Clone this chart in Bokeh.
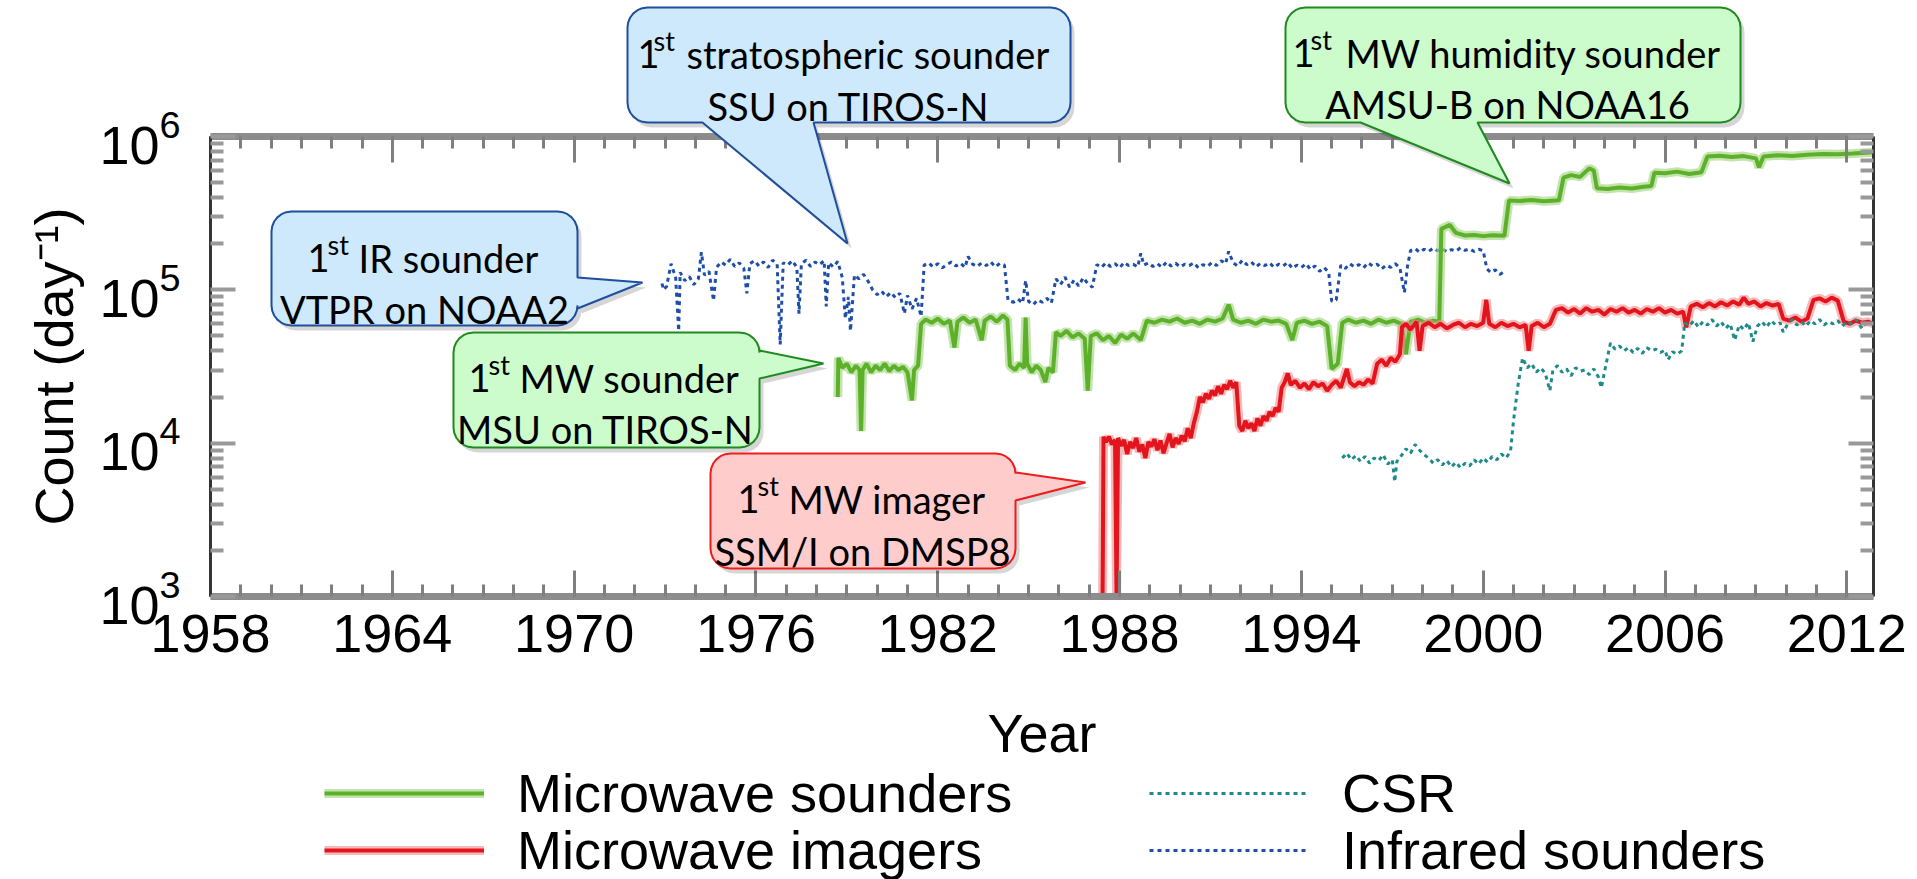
from bokeh.plotting import figure
from bokeh.models import (Range1d, FixedTicker, LinearAxis, LogAxis, Legend, LegendItem,
                          PolyAnnotation, Label, CustomJSTickFormatter)
from bokeh.embed import file_html
from bokeh.resources import INLINE
import math

# ---------------- data ----------------
mws_year = [1978.70, 1978.72, 1978.85, 1979.00, 1979.15, 1979.30, 1979.42, 1979.47, 1979.52, 1979.65,
            1979.80, 1979.95, 1980.10, 1980.25, 1980.40, 1980.55, 1980.70, 1980.85, 1981.00, 1981.15,
            1981.22, 1981.35, 1981.45, 1981.60, 1981.80, 1982.00, 1982.20, 1982.40, 1982.55, 1982.65,
            1982.85, 1983.05, 1983.25, 1983.45, 1983.55, 1983.75, 1983.95, 1984.15, 1984.30, 1984.38,
            1984.55, 1984.70, 1984.85, 1984.90, 1984.95, 1985.10, 1985.25, 1985.40, 1985.55, 1985.65,
            1985.80, 1985.90, 1986.05, 1986.25, 1986.45, 1986.65, 1986.85, 1986.95, 1987.05, 1987.25,
            1987.45, 1987.65, 1987.85, 1988.05, 1988.25, 1988.45, 1988.70, 1988.90, 1989.15, 1989.40,
            1989.65, 1989.90, 1990.15, 1990.40, 1990.65, 1990.90, 1991.15, 1991.40, 1991.60, 1991.75,
            1992.00, 1992.25, 1992.50, 1992.75, 1993.00, 1993.25, 1993.50, 1993.70, 1993.85, 1994.10,
            1994.35, 1994.60, 1994.85, 1995.00, 1995.20, 1995.35, 1995.55, 1995.80, 1996.05, 1996.30,
            1996.55, 1996.80, 1997.05, 1997.30, 1997.45, 1997.60, 1997.85, 1998.10, 1998.35, 1998.55,
            1998.62, 1998.90, 1999.10, 1999.40, 1999.70, 2000.00, 2000.30, 2000.70, 2000.85, 2001.20,
            2001.60, 2002.00, 2002.50, 2002.65, 2002.90, 2003.20, 2003.50, 2003.65, 2003.75, 2004.10,
            2004.50, 2004.90, 2005.30, 2005.55, 2005.65, 2006.00, 2006.40, 2006.80, 2007.20, 2007.40,
            2007.80, 2008.20, 2008.60, 2009.00, 2009.10, 2009.25, 2009.70, 2010.20, 2010.70, 2011.20,
            2011.70, 2012.20, 2012.88]
mws_count = [20000, 36000, 31000, 33000, 29000, 32000, 30000, 12000, 30000, 33000,
             29000, 32000, 30000, 33000, 29500, 32000, 30000, 31500, 29000, 19000,
             30000, 32000, 60000, 64000, 61000, 65000, 60000, 63000, 42000, 62000,
             66000, 61000, 64000, 47000, 63000, 67000, 62000, 68000, 64000, 32000,
             30000, 33000, 31000, 66000, 33000, 29000, 32000, 30000, 25000, 31000,
             29000, 53000, 50000, 54000, 49000, 52000, 48000, 22000, 50000, 52000,
             47000, 50000, 45000, 51000, 48000, 52000, 47000, 63000, 61000, 64000,
             62000, 65000, 61000, 63000, 60000, 64000, 62000, 65000, 80000, 64000,
             61000, 63000, 60000, 64000, 62000, 63000, 60000, 47000, 61000, 63000,
             60000, 62000, 58000, 30500, 33000, 61000, 64000, 61000, 63000, 60000,
             64000, 61000, 63000, 60000, 38000, 62000, 64000, 61000, 63000, 62000,
             250000, 265000, 235000, 226000, 228000, 224000, 227000, 225000, 383000, 380000,
             386000, 378000, 384000, 540000, 560000, 545000, 620000, 600000, 460000, 455000,
             465000, 458000, 470000, 475000, 580000, 575000, 590000, 570000, 585000, 740000,
             750000, 735000, 745000, 720000, 630000, 740000, 755000, 745000, 760000, 770000,
             765000, 775000, 790000]

mwi_year = [1987.44, 1987.47, 1987.55, 1987.65, 1987.75, 1987.85, 1987.90, 1987.95, 1988.05, 1988.15,
            1988.25, 1988.35, 1988.45, 1988.55, 1988.65, 1988.75, 1988.85, 1988.95, 1989.05, 1989.15,
            1989.25, 1989.35, 1989.45, 1989.55, 1989.65, 1989.75, 1989.85, 1989.95, 1990.05, 1990.15,
            1990.25, 1990.35, 1990.45, 1990.55, 1990.65, 1990.75, 1990.85, 1990.95, 1991.05, 1991.15,
            1991.25, 1991.35, 1991.45, 1991.55, 1991.65, 1991.75, 1991.85, 1991.95, 1992.05, 1992.15,
            1992.25, 1992.35, 1992.45, 1992.55, 1992.65, 1992.75, 1992.85, 1992.95, 1993.05, 1993.15,
            1993.25, 1993.35, 1993.45, 1993.55, 1993.65, 1993.80, 1993.95, 1994.10, 1994.25, 1994.40,
            1994.55, 1994.70, 1994.85, 1995.00, 1995.15, 1995.30, 1995.50, 1995.60, 1995.75, 1995.90,
            1996.05, 1996.20, 1996.35, 1996.50, 1996.65, 1996.80, 1996.95, 1997.10, 1997.25, 1997.32,
            1997.45, 1997.60, 1997.80, 1997.90, 1998.00, 1998.20, 1998.40, 1998.60, 1998.80, 1999.00,
            1999.20, 1999.40, 1999.60, 1999.80, 2000.00, 2000.10, 2000.20, 2000.40, 2000.60, 2000.80,
            2001.00, 2001.20, 2001.40, 2001.50, 2001.60, 2001.80, 2002.00, 2002.20, 2002.40, 2002.60,
            2002.80, 2003.00, 2003.20, 2003.40, 2003.60, 2003.80, 2004.00, 2004.20, 2004.40, 2004.60,
            2004.80, 2005.00, 2005.20, 2005.40, 2005.60, 2005.80, 2006.00, 2006.20, 2006.40, 2006.60,
            2006.70, 2006.85, 2007.05, 2007.25, 2007.45, 2007.65, 2007.85, 2008.05, 2008.25, 2008.45,
            2008.60, 2008.75, 2008.95, 2009.15, 2009.35, 2009.55, 2009.75, 2009.90, 2010.10, 2010.30,
            2010.50, 2010.70, 2010.90, 2011.10, 2011.30, 2011.50, 2011.70, 2011.90, 2012.10, 2012.30,
            2012.50, 2012.70, 2012.88]
mwi_count = [1000, 11000, 10200, 11000, 9800, 10500, 1000, 10800, 9600, 10500,
             8500, 10200, 9300, 10800, 8800, 9800, 8000, 10200, 9500, 10600,
             9000, 10400, 8600, 10000, 11500, 9400, 10800, 9900, 11200, 10300,
             12500, 10800, 13500, 16000, 20000, 18500, 21000, 19500, 22000, 20500,
             23500, 21000, 24000, 22500, 25500, 23000, 25000, 13000, 12000, 14000,
             12500, 13500, 12000, 14500, 13000, 15000, 14000, 16000, 15000, 17000,
             16000, 23000, 25000, 28500, 24000, 25500, 23000, 24500, 22500, 25000,
             23500, 24500, 22000, 24000, 25500, 23000, 30500, 25000, 23500, 25000,
             24000, 26000, 24500, 33000, 35000, 32000, 36000, 34000, 38000, 57000,
             60000, 55000, 62000, 40000, 58000, 61000, 57000, 60000, 56000, 59000,
             61000, 57000, 60000, 58000, 61000, 86000, 60000, 57000, 61000, 58000,
             60000, 57000, 59000, 40000, 58000, 61000, 57000, 60000, 74000, 76000,
             71000, 75000, 70000, 76000, 72000, 74000, 69000, 75000, 72000, 76000,
             71000, 74000, 70000, 75000, 72000, 76000, 71000, 74000, 70000, 72000,
             57000, 78000, 81000, 77000, 82000, 78000, 83000, 79000, 84000, 80000,
             89000, 81000, 84000, 78000, 82000, 79000, 81000, 65000, 63000, 66000,
             62000, 65000, 86000, 88000, 84000, 89000, 85000, 62000, 60000, 63000,
             61000, 62000, 60000]

csr_year = [1995.35, 1995.50, 1995.65, 1995.80, 1995.95, 1996.10, 1996.25, 1996.40, 1996.55, 1996.70,
            1996.85, 1997.00, 1997.08, 1997.15, 1997.30, 1997.45, 1997.60, 1997.75, 1997.90, 1998.05,
            1998.20, 1998.35, 1998.50, 1998.65, 1998.80, 1998.95, 1999.10, 1999.25, 1999.40, 1999.55,
            1999.70, 1999.85, 2000.00, 2000.15, 2000.30, 2000.45, 2000.60, 2000.75, 2000.90, 2001.00,
            2001.15, 2001.30, 2001.45, 2001.60, 2001.75, 2001.90, 2002.05, 2002.20, 2002.30, 2002.45,
            2002.60, 2002.75, 2002.90, 2003.05, 2003.20, 2003.35, 2003.50, 2003.65, 2003.80, 2003.90,
            2004.00, 2004.20, 2004.35, 2004.50, 2004.65, 2004.80, 2004.95, 2005.10, 2005.25, 2005.40,
            2005.55, 2005.70, 2005.85, 2006.00, 2006.10, 2006.25, 2006.40, 2006.55, 2006.65, 2006.80,
            2006.95, 2007.10, 2007.25, 2007.40, 2007.55, 2007.70, 2007.85, 2008.00, 2008.15, 2008.30,
            2008.45, 2008.60, 2008.75, 2008.90, 2009.05, 2009.20, 2009.35, 2009.50, 2009.65, 2009.80,
            2009.90, 2010.05, 2010.20, 2010.35, 2010.50, 2010.65, 2010.80, 2010.95, 2011.10, 2011.25,
            2011.40, 2011.55, 2011.70, 2011.85, 2012.00, 2012.15, 2012.30, 2012.50, 2012.65, 2012.88]
csr_count = [8000, 8600, 7800, 8300, 7600, 8200, 7400, 8000, 7700, 8400,
             7300, 7800, 5600, 7600, 8300, 9200, 8600, 9800, 9000, 8400,
             8000, 7400, 7800, 7200, 7700, 7000, 7500, 6900, 7400, 7100,
             7800, 7300, 8000, 7500, 8200, 7800, 8500, 8000, 8800, 14000,
             24000, 36000, 31000, 33000, 29000, 31000, 28500, 22000, 30000, 32000,
             29000, 30500, 27500, 31000, 29500, 30000, 28000, 30500, 27000, 23000,
             29000, 45000, 41000, 43000, 40000, 42000, 39000, 41500, 38500, 42000,
             40000, 41000, 39000, 40500, 35000, 39500, 38000, 40000, 61000, 58000,
             63000, 57000, 62000, 59000, 64000, 58000, 62000, 56000, 60000, 47000,
             59000, 55000, 61000, 46000, 58000, 62000, 57000, 63000, 59000, 61000,
             53000, 60000, 64000, 59000, 62000, 58000, 63000, 60000, 64000, 59000,
             62000, 60000, 63000, 58000, 62000, 60000, 64000, 56000, 62000, 60000]

irs_year = [1972.90, 1972.95, 1973.05, 1973.20, 1973.35, 1973.45, 1973.50, 1973.65, 1973.80, 1973.95,
            1974.10, 1974.20, 1974.30, 1974.45, 1974.60, 1974.70, 1974.85, 1975.00, 1975.15, 1975.30,
            1975.45, 1975.60, 1975.70, 1975.80, 1975.95, 1976.10, 1976.25, 1976.40, 1976.55, 1976.70,
            1976.80, 1976.90, 1977.05, 1977.20, 1977.35, 1977.42, 1977.50, 1977.65, 1977.80, 1977.95,
            1978.10, 1978.25, 1978.32, 1978.40, 1978.55, 1978.70, 1978.85, 1978.95, 1979.05, 1979.12,
            1979.25, 1979.40, 1979.55, 1979.70, 1979.85, 1980.00, 1980.15, 1980.30, 1980.45, 1980.60,
            1980.75, 1980.90, 1981.00, 1981.15, 1981.30, 1981.45, 1981.55, 1981.70, 1981.85, 1982.00,
            1982.15, 1982.30, 1982.45, 1982.60, 1982.75, 1982.90, 1983.00, 1983.15, 1983.30, 1983.45,
            1983.60, 1983.75, 1983.90, 1984.05, 1984.20, 1984.32, 1984.50, 1984.65, 1984.80, 1984.90,
            1985.00, 1985.15, 1985.30, 1985.45, 1985.60, 1985.75, 1985.90, 1986.05, 1986.20, 1986.35,
            1986.50, 1986.65, 1986.80, 1986.95, 1987.10, 1987.25, 1987.40, 1987.55, 1987.70, 1987.85,
            1988.00, 1988.15, 1988.30, 1988.45, 1988.60, 1988.70, 1988.80, 1988.95, 1989.10, 1989.25,
            1989.40, 1989.55, 1989.70, 1989.85, 1990.00, 1990.15, 1990.30, 1990.45, 1990.60, 1990.75,
            1990.90, 1991.05, 1991.20, 1991.35, 1991.50, 1991.60, 1991.75, 1991.90, 1992.05, 1992.20,
            1992.35, 1992.50, 1992.65, 1992.80, 1992.95, 1993.10, 1993.25, 1993.40, 1993.55, 1993.70,
            1993.85, 1994.00, 1994.15, 1994.30, 1994.45, 1994.60, 1994.75, 1994.90, 1995.00, 1995.15,
            1995.30, 1995.45, 1995.60, 1995.75, 1995.90, 1996.05, 1996.20, 1996.35, 1996.50, 1996.65,
            1996.80, 1996.95, 1997.10, 1997.25, 1997.40, 1997.50, 1997.60, 1997.75, 1997.90, 1998.05,
            1998.20, 1998.35, 1998.50, 1998.65, 1998.80, 1998.95, 1999.10, 1999.25, 1999.40, 1999.55,
            1999.70, 1999.85, 2000.00, 2000.12, 2000.25, 2000.40, 2000.55, 2000.70]
irs_count = [110000, 100000, 105000, 148000, 120000, 54000, 130000, 115000, 122000, 108000,
             118000, 176000, 125000, 132000, 85000, 140000, 152000, 145000, 158000, 142000,
             150000, 138000, 95000, 148000, 155000, 143000, 152000, 140000, 156000, 147000,
             44000, 150000, 145000, 155000, 140000, 70000, 148000, 156000, 142000, 152000,
             146000, 155000, 78000, 150000, 141000, 153000, 120000, 65000, 90000, 54000,
             125000, 118000, 126000, 114000, 100000, 93000, 98000, 90000, 96000, 89000,
             95000, 70000, 92000, 75000, 88000, 67000, 145000, 150000, 141000, 148000,
             139000, 146000, 152000, 143000, 149000, 140000, 165000, 147000, 142000, 150000,
             144000, 152000, 141000, 149000, 145000, 85000, 83000, 87000, 82000, 115000,
             84000, 80000, 86000, 83000, 88000, 82000, 118000, 108000, 121000, 104000,
             116000, 106000, 120000, 110000, 104000, 146000, 140000, 150000, 142000, 148000,
             139000, 151000, 144000, 147000, 141000, 173000, 145000, 150000, 142000, 148000,
             140000, 152000, 143000, 149000, 141000, 147000, 144000, 150000, 139000, 146000,
             142000, 151000, 144000, 155000, 148000, 178000, 150000, 143000, 156000, 146000,
             152000, 141000, 149000, 144000, 150000, 140000, 147000, 143000, 151000, 138000,
             145000, 140000, 148000, 136000, 143000, 132000, 140000, 130000, 84000, 86000,
             145000, 138000, 148000, 141000, 146000, 139000, 150000, 143000, 147000, 137000,
             145000, 140000, 148000, 139000, 96000, 142000, 180000, 186000, 176000, 184000,
             178000, 187000, 180000, 185000, 177000, 183000, 179000, 188000, 181000, 185000,
             178000, 184000, 180000, 137000, 130000, 135000, 126000, 132000]

x_major = [1958, 1964, 1970, 1976, 1982, 1988, 1994, 2000, 2006, 2012]
x_minor = list(range(1958, 2013))
y_major = [1e3, 1e4, 1e5, 1e6]
y_minor = [k * 10.0 ** e for e in range(3, 6) for k in range(2, 10)]

# ---------------- layout ----------------
# The frame covers the whole canvas (so callouts and legend are not clipped);
# the axes are drawn at fixed data locations around the data box.
W, H = 1917, 879
FL, FR, FT, FB = 210, 1873, 136, 596      # the axes box, in canvas pixels
X0, X1 = 1958.0, 2012.88
FX = (FR - FL) / (X1 - X0)
DEC = (FB - FT) / 3.0                      # pixels per decade

def X(px):
    return X0 + (px - FL) / FX

def Y(py):
    return 10 ** (3 + (FB - py) / DEC)

p = figure(width=W, height=H, x_range=Range1d(X(0), X(W)), y_range=Range1d(Y(H), Y(0)),
           y_axis_type="log", output_backend="svg", toolbar_location=None,
           min_border=0, min_border_left=0, min_border_right=0, min_border_top=0,
           min_border_bottom=0)
p.outline_line_color = None
p.xgrid.visible = False
p.ygrid.visible = False
p.background_fill_color = "white"
p.border_fill_color = "white"

AXFONT = "Liberation Sans"
blank = CustomJSTickFormatter(code="return ''")

xa = p.xaxis[0]
xa.fixed_location = 1e3
xa.bounds = (X0, X1)
xa.ticker = FixedTicker(ticks=x_major, minor_ticks=x_minor)
xa.axis_label = "Year"
ya = p.yaxis[0]
ya.fixed_location = X0
ya.bounds = (1e3, 1e6)
ya.ticker = FixedTicker(ticks=y_major, minor_ticks=y_minor)
ya.axis_label = "Count (day\u207b\u00b9)"

top = LinearAxis(fixed_location=1e6, bounds=(X0, X1), formatter=blank,
                 ticker=FixedTicker(ticks=x_major, minor_ticks=x_minor))
right = LogAxis(fixed_location=X1, bounds=(1e3, 1e6), formatter=blank,
                ticker=FixedTicker(ticks=y_major, minor_ticks=y_minor))
p.add_layout(top, "above")
p.add_layout(right, "right")

for a in (xa, top):
    a.axis_line_color = "#8c8c8c"
    a.axis_line_width = 7
    a.major_tick_in = 26
    a.major_tick_out = 0
    a.minor_tick_in = 12
    a.minor_tick_out = 0
    a.major_tick_line_color = "#7f7f7f"
    a.minor_tick_line_color = "#7f7f7f"
    a.major_tick_line_width = 3
    a.minor_tick_line_width = 3
for a in (ya, right):
    a.axis_line_color = "#333333"
    a.axis_line_width = 3
    a.major_tick_in = 25
    a.major_tick_out = 0
    a.minor_tick_in = 13
    a.minor_tick_out = 0
    a.major_tick_line_color = "#999999"
    a.minor_tick_line_color = "#999999"
    a.major_tick_line_width = 4
    a.minor_tick_line_width = 4
for a in (xa, ya):
    a.major_label_text_font = AXFONT
    a.major_label_text_font_size = "54px"
    a.major_label_text_color = "black"
    a.axis_label_text_font = AXFONT
    a.axis_label_text_font_size = "54px"
    a.axis_label_text_font_style = "normal"
    a.axis_label_text_color = "black"
xa.major_label_standoff = 18
xa.axis_label_standoff = 48
ya.major_label_standoff = 30
ya.axis_label_standoff = 12

# ---------------- series ----------------
ir = p.line(irs_year, irs_count, line_color="#1f4ea8", line_width=3, line_dash="4 4")
g_halo = p.line(mws_year, mws_count, line_color="#a9d98a", line_width=9, line_alpha=0.7)
g_main = p.line(mws_year, mws_count, line_color="#5cb02a", line_width=4)
r_halo = p.line(mwi_year, mwi_count, line_color="#f28c8c", line_width=9, line_alpha=0.6)
r_main = p.line(mwi_year, mwi_count, line_color="#e3141c", line_width=4)
csr = p.line(csr_year, csr_count, line_color="#1f8a8a", line_width=3, line_dash="4 4")

def make_legend(items, row_center):
    lg = Legend(items=items, orientation="horizontal",
                location=(324, H - (row_center + 29)),
                label_text_font=AXFONT, label_text_font_size="54px", label_text_color="black",
                glyph_width=160, glyph_height=58, label_standoff=33, label_width=632,
                label_height=58, spacing=0, padding=0, margin=0, border_line_alpha=0,
                background_fill_alpha=0)
    p.add_layout(lg, "center")

make_legend([LegendItem(label="Microwave sounders", renderers=[g_halo, g_main]),
             LegendItem(label="CSR", renderers=[csr])], 795)
make_legend([LegendItem(label="Microwave imagers", renderers=[r_halo, r_main]),
             LegendItem(label="Infrared sounders", renderers=[ir])], 852)

# ---------------- callouts ----------------
def callout_path(box, side, base, tip, rad=20):
    l, t, r, b = box
    pts = []
    def arc(cx, cy, a0, a1):
        for i in range(7):
            a = math.radians(a0 + (a1 - a0) * i / 6)
            pts.append((cx + rad * math.cos(a), cy + rad * math.sin(a)))
    arc(l + rad, t + rad, 180, 270)
    arc(r - rad, t + rad, 270, 360)
    if side == "right":
        pts += [(r, base[0]), tip, (r, base[1])]
    arc(r - rad, b - rad, 0, 90)
    if side == "bottom":
        pts += [(base[1], b), tip, (base[0], b)]
    arc(l + rad, b - rad, 90, 180)
    return pts

BLUE = ("#cde9fb", "#1f4e9c")
GREEN = ("#ccfbcc", "#1f8a1f")
RED = ("#ffcccc", "#ee1c1c")

callouts = [
    dict(box=(271, 211, 577, 325), side="right", base=(277, 308), tip=(642, 282), col=BLUE,
         first=("IR sounder", 307, 327, 358, 257), second=("VTPR on NOAA2", 424, 308)),
    dict(box=(627, 7, 1070, 122), side="bottom", base=(702, 813), tip=(847, 243), col=BLUE,
         first=("stratospheric sounder", 637, 653, 686, 53), second=("SSU on TIROS-N", 848, 105)),
    dict(box=(453, 332, 759, 447), side="right", base=(350, 378), tip=(823, 363), col=GREEN,
         first=("MW sounder", 468, 488, 519, 377), second=("MSU on TIROS-N", 605, 428)),
    dict(box=(710, 453, 1015, 568), side="right", base=(472, 500), tip=(1085, 482), col=RED,
         first=("MW imager", 737, 757, 788, 498), second=("SSM/I on DMSP8", 862, 550)),
    dict(box=(1285, 7, 1740, 122), side="bottom", base=(1360, 1477), tip=(1509, 183), col=GREEN,
         first=("MW humidity sounder", 1292, 1310, 1345, 52), second=("AMSU-B on NOAA16", 1507, 103)),
]

CFONT = "Lato"
for c in callouts:
    pts = callout_path(c["box"], c["side"], c["base"], c["tip"])
    p.add_layout(PolyAnnotation(xs=[X(x + 4) for x, y in pts], ys=[Y(y + 5) for x, y in pts],
                                fill_color="black", fill_alpha=0.16, line_alpha=0))
    p.add_layout(PolyAnnotation(xs=[X(x) for x, y in pts], ys=[Y(y) for x, y in pts],
                                fill_color=c["col"][0], fill_alpha=1.0,
                                line_color=c["col"][1], line_alpha=1.0, line_width=2))
    rest, x1, xst, xrest, base = c["first"]
    p.add_layout(Label(x=X(x1), y=Y(base), text="1", text_font=CFONT, text_font_size="38px",
                       text_align="left", text_baseline="alphabetic", text_color="black"))
    p.add_layout(Label(x=X(xst), y=Y(base - 13), text="st", text_font=CFONT, text_font_size="27px",
                       text_align="left", text_baseline="alphabetic", text_color="black"))
    p.add_layout(Label(x=X(xrest), y=Y(base), text=rest, text_font=CFONT, text_font_size="38px",
                       text_align="left", text_baseline="alphabetic", text_color="black"))
    t2, xc, b2 = c["second"]
    p.add_layout(Label(x=X(xc), y=Y(b2), text=t2, text_font=CFONT, text_font_size="38px",
                       text_align="center", text_baseline="alphabetic", text_color="black"))

open("out.html", "w").write(file_html(p, INLINE))
